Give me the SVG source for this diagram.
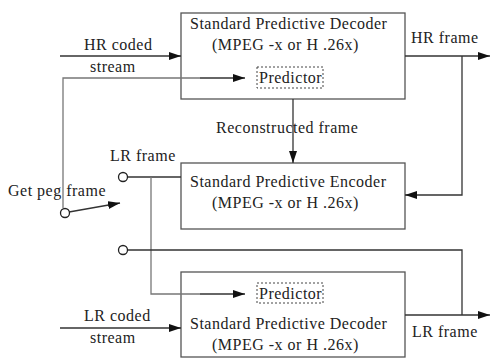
<svg xmlns="http://www.w3.org/2000/svg" width="490" height="358" viewBox="0 0 490 358">
<style>
text{font-family:"Liberation Serif","Times New Roman",serif;font-size:16px;letter-spacing:0.5px;fill:#222}
.box{fill:#fff;stroke:#555;stroke-width:1.3}
.pred{fill:none;stroke:#444;stroke-width:1;stroke-dasharray:2,2}
.ln{fill:none;stroke:#333;stroke-width:1.3}
.gl{fill:none;stroke:#777;stroke-width:1.3}
.arr{marker-end:url(#ah)}
.c{fill:#fff;stroke:#222;stroke-width:1.3}
</style>
<defs>
<marker id="ah" markerWidth="12" markerHeight="8" refX="12" refY="4" orient="auto" markerUnits="userSpaceOnUse">
<path d="M0,0 L12,4 L0,8 Z" fill="#111"/>
</marker>
</defs>
<g id="hr-decoder">
<rect class="box" x="181" y="13" width="224" height="86"/>
<text x="190" y="29">Standard Predictive Decoder</text>
<text x="212" y="50">(MPEG -x or H .26x)</text>
<rect class="pred" x="257" y="67" width="66" height="21"/>
<text x="259" y="83">Predictor</text>
</g>
<g id="encoder">
<rect class="box" x="181" y="163" width="224" height="66"/>
<text x="190" y="187">Standard Predictive Encoder</text>
<text x="212" y="208">(MPEG -x or H .26x)</text>
</g>
<g id="lr-decoder">
<rect class="box" x="181" y="272" width="224" height="85"/>
<rect class="pred" x="257" y="283" width="66" height="20"/>
<text x="259" y="299">Predictor</text>
<text x="190" y="329">Standard Predictive Decoder</text>
<text x="212" y="350">(MPEG -x or H .26x)</text>
</g>
<g id="connectors">
<line class="ln arr" x1="60" y1="56" x2="181" y2="56"/>
<path class="gl" d="M63,208 V78 H200"/>
<line class="ln arr" x1="200" y1="78" x2="245" y2="78"/>
<line class="ln arr" x1="405" y1="56" x2="490" y2="56"/>
<path class="ln arr" d="M462,56 V195 H405"/>
<line class="ln arr" x1="293" y1="99" x2="293" y2="163"/>
<line class="ln" x1="127.5" y1="177" x2="181" y2="177"/>
<path class="gl" d="M151,177 V294 H200"/>
<line class="ln arr" x1="200" y1="294" x2="245" y2="294"/>
<line class="ln arr" x1="69" y1="212" x2="120" y2="203"/>
<path class="ln" d="M127.5,250 H462 V315"/>
<line class="ln arr" x1="405" y1="315" x2="490" y2="315"/>
<line class="ln arr" x1="60" y1="328" x2="181" y2="328"/>
<circle class="c" cx="123" cy="177" r="4.5"/>
<circle class="c" cx="65" cy="213" r="4.5"/>
<circle class="c" cx="123" cy="250" r="4.5"/>
</g>
<g id="labels">
<text x="84" y="50">HR coded</text>
<text x="90" y="72">stream</text>
<text x="411" y="43">HR frame</text>
<text x="216" y="133">Reconstructed frame</text>
<text x="110" y="161">LR frame</text>
<text x="8" y="196">Get peg frame</text>
<text x="84" y="321">LR coded</text>
<text x="90" y="343">stream</text>
<text x="412" y="337">LR frame</text>
</g>
</svg>
